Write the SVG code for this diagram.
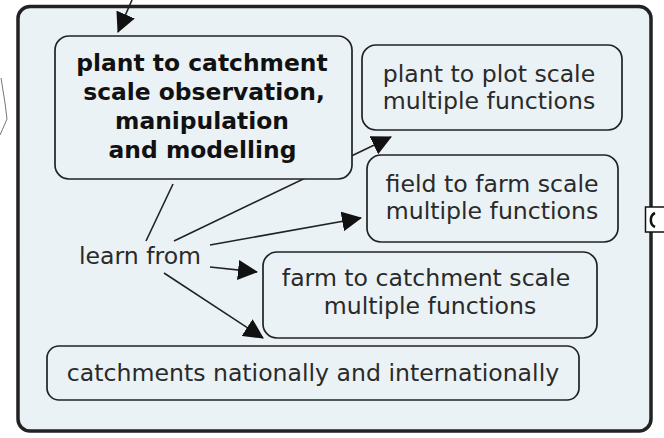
<svg xmlns="http://www.w3.org/2000/svg" width="664" height="438" viewBox="0 0 664 438">
  <defs>
    <style>
      .node rect { fill: #ebf2f5; stroke: #222; stroke-width: 1.7; }
      .lbl { font-family: "DejaVu Sans", Verdana, sans-serif; font-size: 23.6px; fill: #2a2a2a; text-anchor: middle; }
      .bold { font-weight: bold; fill: #111; font-size: 23.4px; }
      .conn line { stroke: #222; stroke-width: 1.6; fill: none; }
      .arr { marker-end: url(#ah); }
    </style>
    <marker id="ah" viewBox="0 0 20 20" refX="19" refY="10" markerWidth="20" markerHeight="20" markerUnits="userSpaceOnUse" orient="auto">
      <path d="M0,0 L20,10 L0,20 Z" fill="#111"/>
    </marker>
  </defs>
  <rect x="0" y="0" width="664" height="438" fill="#ffffff"/>
  <polyline points="1,78 5,103 7,119 0,135" fill="none" stroke="#777" stroke-width="1"/>
  <g id="container">
    <rect x="18" y="6.5" width="633" height="424.5" rx="12" fill="#ebf2f5" stroke="#222" stroke-width="3.5"/>
  </g>
  <g id="side-box">
    <rect x="645.5" y="207" width="30" height="25" fill="#ffffff" stroke="#111" stroke-width="1.5"/>
    <path d="M655,213 A6.5,7.5 0 0 0 655,227" fill="none" stroke="#111" stroke-width="2.5"/>
  </g>
  <g id="connectors" class="conn">
    <line class="arr" x1="132" y1="0" x2="118" y2="32"/>
    <line x1="173" y1="184" x2="146" y2="241"/>
    <line class="arr" x1="174" y1="241" x2="391" y2="137"/>
    <line class="arr" x1="210" y1="245" x2="361" y2="218"/>
    <line class="arr" x1="210" y1="267" x2="257" y2="272"/>
    <line class="arr" x1="164" y1="273" x2="263" y2="338"/>
  </g>
  <g id="node-main" class="node">
    <rect x="55" y="36" width="297" height="143" rx="14"/>
    <text class="lbl bold" x="202" y="71">plant to catchment</text>
    <text class="lbl bold" x="204" y="100">scale observation,</text>
    <text class="lbl bold" x="202" y="129">manipulation</text>
    <text class="lbl bold" x="202.5" y="158">and modelling</text>
  </g>
  <g id="node-plot" class="node">
    <rect x="362" y="45" width="260" height="85" rx="14"/>
    <text class="lbl" x="489" y="82">plant to plot scale</text>
    <text class="lbl" x="489" y="109">multiple functions</text>
  </g>
  <g id="node-field" class="node">
    <rect x="367" y="155" width="251" height="87" rx="14"/>
    <text class="lbl" x="492" y="192">field to farm scale</text>
    <text class="lbl" x="492" y="219">multiple functions</text>
  </g>
  <g id="node-farm" class="node">
    <rect x="263" y="252" width="334" height="86" rx="14"/>
    <text class="lbl" x="426" y="286">farm to catchment scale</text>
    <text class="lbl" x="430" y="314">multiple functions</text>
  </g>
  <g id="node-catchments" class="node">
    <rect x="47" y="346" width="532" height="54" rx="12"/>
    <text class="lbl" x="313" y="381">catchments nationally and internationally</text>
  </g>
  <g id="link-learn">
    <text class="lbl" x="140" y="264">learn from</text>
  </g>
</svg>
